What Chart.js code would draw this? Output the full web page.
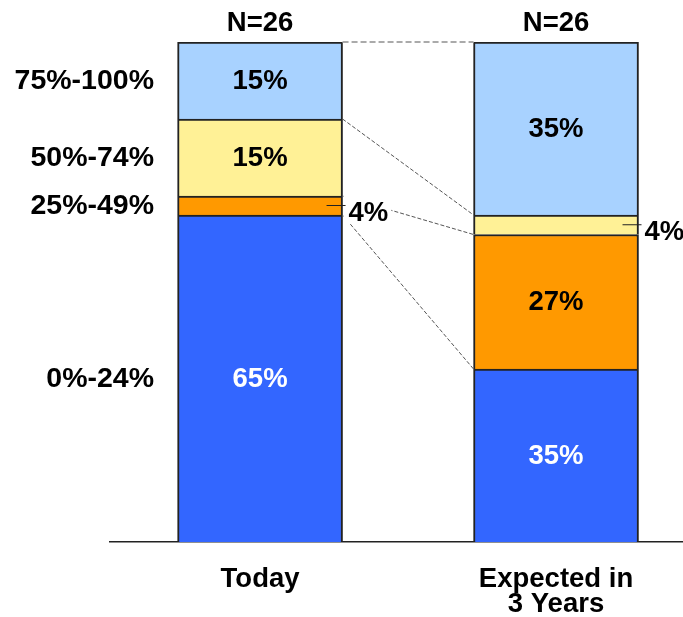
<!DOCTYPE html>
<html>
<head>
<meta charset="utf-8">
<script src="https://cdn.jsdelivr.net/npm/chart.js@4"></script>
<style>
  html, body { margin: 0; padding: 0; background: #fff; }
</style>
</head>
<body>
<canvas id="chart" width="683" height="617"></canvas>
<script>
// Share of work in each range, today vs. expected in 3 years

const tickLabels = ['Today', ['Expected in', '3 Years']];
const sampleSizes = ['N=26', 'N=26'];
const ranges = ['0%-24%', '25%-49%', '50%-74%', '75%-100%'];

// values per range, bottom to top of the stack
const todayValues = [65.4, 3.8, 15.4, 15.4];
const expectedValues = [34.6, 26.9, 3.9, 34.6];
const todayLabels = ['65%', '4%', '15%', '15%'];
const expectedLabels = ['35%', '27%', '4%', '35%'];

const colors = ['#3366ff', '#ff9900', '#fff196', '#a8d2ff'];
const labelColors = ['#ffffff', '#000000', '#000000', '#000000'];
const FONT = 'bold 27.5px "Liberation Sans", Arial, sans-serif';
const RANGE_FONT = 'bold 28.5px "Liberation Sans", Arial, sans-serif';

const valueLabels = [todayLabels, expectedLabels];

// Draws segment labels, range names, N counts and the dashed connectors
const annotate = {
  id: 'annotate',
  afterDatasetsDraw(chart) {
    const ctx = chart.ctx;
    const area = chart.chartArea;
    const metas = chart.data.datasets.map((d, i) => chart.getDatasetMeta(i));

    ctx.save();
    ctx.font = FONT;

    // small segments get their label outside, with a leader line
    const holes = [];
    const outside = [];
    metas.forEach((meta, i) => {
      meta.data.forEach((bar, j) => {
        const h = bar.base - bar.y;
        const cy = (bar.y + bar.base) / 2;
        const text = valueLabels[j][i];
        if (h < 30) {
          const right = bar.x + bar.width / 2;
          const tx = right + 6;
          const ty = cy + 8;
          const w = ctx.measureText(text).width;
          outside.push({ text, right, cy, tx, ty });
          holes.push([right + 1, cy - 11, w + 8, ty + 10 - (cy - 11)]);
        } else {
          ctx.fillStyle = labelColors[i];
          ctx.textAlign = 'center';
          ctx.textBaseline = 'middle';
          ctx.fillText(text, bar.x, cy + 1);
        }
      });
    });

    // connectors between the two bars, skipping the outside labels
    ctx.save();
    ctx.beginPath();
    ctx.rect(0, 0, chart.width, chart.height);
    holes.forEach(r => ctx.rect(r[0], r[1], r[2], r[3]));
    ctx.clip('evenodd');
    metas.forEach((meta, i) => {
      const a = meta.data[0];
      const b = meta.data[1];
      const top = i === metas.length - 1;
      ctx.beginPath();
      ctx.strokeStyle = top ? '#aaaaaa' : '#555555';
      ctx.lineWidth = top ? 2 : 1;
      ctx.setLineDash(top ? [6, 3] : [4, 2]);
      ctx.moveTo(a.x + a.width / 2, a.y);
      ctx.lineTo(b.x - b.width / 2, b.y);
      ctx.stroke();
    });
    ctx.restore();

    outside.forEach(o => {
      ctx.beginPath();
      ctx.strokeStyle = '#222';
      ctx.lineWidth = 1;
      ctx.moveTo(o.right - 16, o.cy);
      ctx.lineTo(o.right + 3, o.cy);
      ctx.stroke();
      ctx.fillStyle = '#000';
      ctx.textAlign = 'left';
      ctx.textBaseline = 'middle';
      ctx.fillText(o.text, o.tx, o.ty);
    });

    // sample sizes above the bars
    ctx.fillStyle = '#000';
    ctx.textAlign = 'center';
    ctx.textBaseline = 'middle';
    metas[0].data.forEach((bar, j) => {
      ctx.fillText(sampleSizes[j], bar.x, area.top - 19);
    });

    // range names beside the first bar
    ctx.font = RANGE_FONT;
    ctx.textAlign = 'right';
    metas.forEach((meta, i) => {
      const bar = meta.data[0];
      ctx.fillText(ranges[i], 154, (bar.y + bar.base) / 2 + 1);
    });
    ctx.restore();
  }
};

const datasets = ranges.map((name, i) => ({
  label: name,
  data: [{ x: 0, y: todayValues[i] }, { x: 1, y: expectedValues[i] }],
  backgroundColor: colors[i],
  borderColor: '#222',
  borderWidth: 2,
  borderSkipped: 'start',
  barThickness: 165
}));

new Chart(document.getElementById('chart'), {
  type: 'bar',
  data: { datasets },
  plugins: [annotate],
  options: {
    responsive: false,
    animation: false,
    layout: { padding: { left: 110, top: 42, right: 0, bottom: 0 } },
    plugins: {
      legend: { display: false },
      tooltip: { enabled: false }
    },
    scales: {
      x: {
        type: 'linear',
        stacked: true,
        offset: false,
        min: -0.507,
        max: 1.429,
        grid: { display: false },
        border: { display: true, color: '#222', width: 1.5 },
        afterBuildTicks: scale => {
          scale.ticks = tickLabels.map((t, i) => ({ value: i }));
        },
        afterFit: scale => { scale.height = 75; },
        ticks: {
          autoSkip: false,
          maxRotation: 0,
          padding: 17,
          color: '#000',
          font: { family: '"Liberation Sans", Arial, sans-serif', size: 27.5, weight: 'bold', lineHeight: 0.91 },
          callback: value => tickLabels[value]
        }
      },
      y: {
        stacked: true,
        display: false,
        min: 0,
        max: 100
      }
    }
  }
});
</script>
</body>
</html>
